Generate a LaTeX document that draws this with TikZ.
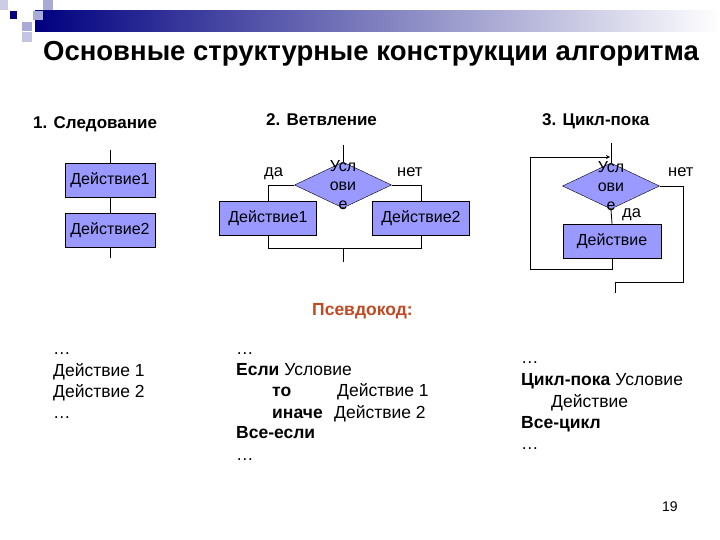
\documentclass[tikz,border=0pt]{standalone}
\usepackage{fontspec}
\setmainfont{Liberation Sans}
\usetikzlibrary{shapes.geometric,positioning}

\definecolor{boxfill}{RGB}{153,153,255}
\definecolor{barnavy}{RGB}{0,0,128}
\definecolor{barlight}{RGB}{170,170,215}
\definecolor{pseudo}{RGB}{190,75,35}

\tikzset{
  act/.style={draw, fill=boxfill, minimum width=90pt, minimum height=34pt,
    inner sep=0pt, font=\fontsize{16}{18}\selectfont},
  cond/.style={draw, fill=boxfill, diamond, minimum width=97pt,
    minimum height=46pt, inner sep=0pt},
  condtext/.style={align=center, inner sep=0pt, font=\fontsize{16}{19}\selectfont},
  head/.style={anchor=base west, inner sep=0pt, font=\bfseries\fontsize{17}{20}\selectfont},
  lbl/.style={anchor=base west, inner sep=0pt, font=\fontsize{16.5}{18}\selectfont},
  code/.style={anchor=base west, inner sep=0pt, font=\fontsize{17.5}{20}\selectfont},
  wire/.style={draw, line width=0.8pt}
}

\begin{document}
\begin{tikzpicture}[x=1pt,y=-1pt]
\useasboundingbox (0,0) rectangle (720,540);

% header bar
\shade[left color=barnavy, right color=white] (35,11) rectangle (720,32);
\fill[barlight!60] (0,0) rectangle (8,10);
\fill[barlight] (43,0) rectangle (53,10);
\fill[barnavy] (10,11) rectangle (17,19);
\fill[barlight] (33,11) rectangle (43,20);
\fill[barlight] (22,22) rectangle (32,31);
\fill[barlight!70] (22,32) rectangle (32,42);

\node (title) [anchor=base, inner sep=0pt, font=\bfseries\fontsize{27.5}{30}\selectfont]
  at (371,61) {Основные структурные конструкции алгоритма};

% 1. sequence
\node (h1) [head] at (33,129) {1. Следование};
\node (s1) [act] at (110,180) {Действие1};
\node (s2) [act] at (110,230) {Действие2};
\coordinate (s0) at (110,150);
\coordinate (s3) at (110,258);
\draw[wire] (s0) -- (s1);
\draw[wire] (s1) -- (s2);
\draw[wire] (s2) -- (s3);

% 2. branching
\node (h2) [head] at (266,126) {2. Ветвление};
\node (c2) [cond] at (343,185) {};
\node (c2t) [condtext] at (c2) {Усл\\ови\\е};
\node (b1) [act, minimum width=97pt] at (268,218.5) {Действие1};
\node (b2) [act, minimum width=97pt] at (421,218.5) {Действие2};
\coordinate (c2in) at (343,145);
\coordinate (bl) at (268,248);
\coordinate (br) at (421,248);
\coordinate (bm) at (343,248);
\coordinate (bout) at (343,262);
\draw[wire] (c2in) -- (c2.north);
\draw[wire] (c2.west) -| (b1.north);
\draw[wire] (c2.east) -| (b2.north);
\draw[wire] (b1.south) -- (bl) -- (br) -- (b2.south);
\draw[wire] (bm) -- (bout);
\node (yes2) [lbl] at (264,177) {да};
\node (no2) [lbl] at (397,177) {нет};

% 3. loop
\node (h3) [head] at (542,126) {3. Цикл-пока};
\node (c3) [cond] at (611,186) {};
\node (c3t) [condtext] at (c3) {Усл\\ови\\е};
\node (l1) [act, minimum width=98pt] at (612,241) {Действие};
\coordinate (c3in) at (611,143);
\coordinate (lb) at (612,269);
\coordinate (ll) at (530,269);
\coordinate (lt) at (530,157);
\coordinate (lm) at (610,157);
\coordinate (er) at (683,186);
\coordinate (ed) at (683,282);
\coordinate (el) at (615,282);
\coordinate (eout) at (615,293);
\draw[wire] (c3in) -- (c3.north);
\draw[wire] (c3.south) -- (l1.north);
\draw[wire, ->, >=stealth] (l1.south) -- (lb) -- (ll) -- (lt) -- (lm);
\draw[wire] (c3.east) -- (er) -- (ed) -- (el) -- (eout);
\node (yes3) [lbl] at (622,218) {да};
\node (no3) [lbl] at (668,177) {нет};

% pseudocode
\node (ph) [anchor=base west, inner sep=0pt, text=pseudo,
  font=\bfseries\fontsize{17.5}{20}\selectfont] at (312,315) {Псевдокод:};

\node (p1a) [code] at (53,354) {\dots};
\node (p1b) [code] at (53,376) {Действие 1};
\node (p1c) [code] at (53,397) {Действие 2};
\node (p1d) [code] at (53,418) {\dots};

\node (p2a) [code] at (236,354) {\dots};
\node (p2b) [code] at (236,375) {\textbf{Если} Условие};
\node (p2c) [code] at (272,396) {\makebox[65pt][l]{\textbf{то}}Действие 1};
\node (p2d) [code] at (272,418) {\makebox[62pt][l]{\textbf{иначе}}Действие 2};
\node (p2e) [code] at (236,438) {\textbf{Все-если}};
\node (p2f) [code] at (236,460) {\dots};

\node (p3a) [code] at (521,363) {\dots};
\node (p3b) [code] at (521,385) {\textbf{Цикл-пока} Условие};
\node (p3c) [code] at (551,407) {Действие};
\node (p3d) [code] at (521,428) {\textbf{Все-цикл}};
\node (p3e) [code] at (521,449) {\dots};

\node (pg) [anchor=base west, inner sep=0pt, font=\fontsize{14}{16}\selectfont]
  at (662,511) {19};
\end{tikzpicture}
\end{document}
